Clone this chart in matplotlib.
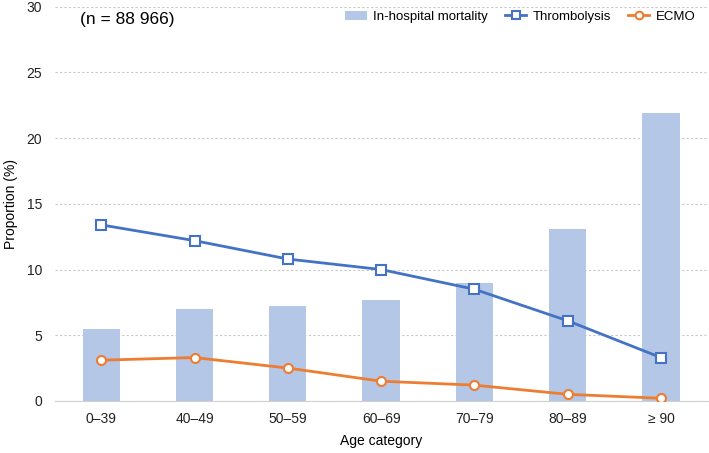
import numpy as np
import matplotlib.pyplot as plt

plt.rcParams['font.family'] = ['Liberation Sans', 'DejaVu Sans']

categories = ['0–39', '40–49', '50–59', '60–69', '70–79', '80–89', '≥ 90']
mortality = [5.5, 7.0, 7.2, 7.7, 9.0, 13.1, 21.9]
thrombolysis = [13.4, 12.2, 10.8, 10.0, 8.5, 6.1, 3.3]
ecmo = [3.1, 3.3, 2.5, 1.5, 1.2, 0.5, 0.2]

x = np.arange(len(categories))

fig = plt.figure(figsize=(7.09, 4.53), dpi=100)
ax = fig.add_axes([0.077, 0.115, 0.921, 0.87])

b = ax.bar(x, mortality, width=0.4, color='#B4C7E7', label='In-hospital mortality', zorder=2)
l1, = ax.plot(x, thrombolysis, color='#4472C4', lw=2, marker='s', ms=6.5,
              mfc='white', mec='#4472C4', mew=1.5, label='Thrombolysis', zorder=3)
l2, = ax.plot(x, ecmo, color='#ED7D31', lw=2, marker='o', ms=6.5,
              mfc='white', mec='#ED7D31', mew=1.5, label='ECMO', zorder=3)

ax.set_xlim(-0.5, len(categories) - 0.5)
ax.set_ylim(0, 30)
ax.set_yticks(np.arange(0, 31, 5))
ax.set_xticks(x)
ax.set_xticklabels(categories)
ax.tick_params(axis='both', length=0, labelsize=10, colors='#222222')
ax.tick_params(axis='y', pad=9)
ax.tick_params(axis='x', pad=8)

ax.grid(axis='y', color='#C8C8C8', linestyle=(0, (2, 2)), lw=0.8, zorder=0)
for s in ['top', 'right', 'left']:
    ax.spines[s].set_visible(False)
ax.spines['bottom'].set_color('#D0D0D0')

ax.set_ylabel('Proportion (%)', fontsize=10, labelpad=6)
ax.set_xlabel('Age category', fontsize=10, labelpad=6)

ax.text(-0.23, 29.05, '(n = 88 966)', fontsize=12.5, va='center')

ax.legend([b, l1, l2], ['In-hospital mortality', 'Thrombolysis', 'ECMO'],
          loc='upper right', ncol=3, frameon=False, fontsize=9.5,
          bbox_to_anchor=(1.0, 1.02), handlelength=1.6, columnspacing=1.3,
          handletextpad=0.5, markerscale=0.85)

fig.savefig('out.png', dpi=100)
